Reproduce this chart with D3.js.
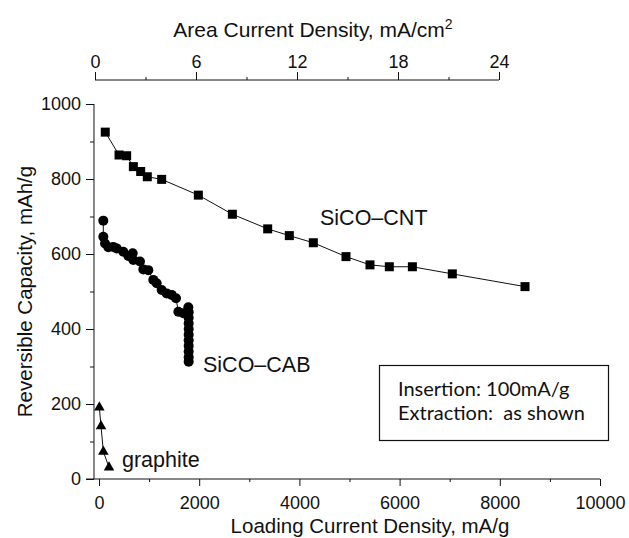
<!DOCTYPE html>
<html>
  <head>
    <meta charset="utf-8">
    <script src="https://d3js.org/d3.v7.min.js"></script>
    <title>Reversible Capacity</title>
    <style>
      body { margin: 0; background: #fff; }
      svg text { font-family: "Liberation Sans", Arial, sans-serif; fill: #111; }
      .tick line, .domain { stroke: #111; }
      .box text { font-family: Lato, "Open Sans", sans-serif; }
    </style>
  </head>
  <body>
    <div id="chart"></div>
    <script>
      // data
      const cntX = [125, 400, 552, 686, 832, 964, 1251, 1983, 2662, 3367, 3799, 4278, 4930, 5409, 5795, 6255, 7052, 8503];
      const cntY = [925, 864, 862, 833, 820, 806, 799, 757, 706, 667, 649, 630, 593, 571, 566, 566, 547, 513];

      const cabX = [86, 86, 120, 186, 285, 353, 485, 585, 672, 685, 818, 885, 984, 1084, 1151, 1251, 1351, 1451, 1537,
                    1584, 1683, 1783, 1790, 1790, 1790, 1790, 1790, 1790, 1790, 1790, 1790, 1790];
      const cabY = [689, 646, 628, 618, 619, 615, 606, 595, 602, 584, 580, 559, 557, 531, 522, 504, 495, 491, 482,
                    446, 442, 458, 445, 430, 415, 400, 385, 370, 355, 340, 325, 313];

      const grX = [7, 40, 87, 200];
      const grY = [191, 141, 73, 31];

      const xMajor = [0, 2000, 4000, 6000, 8000, 10000];
      const xMinor = [1000, 3000, 5000, 7000, 9000];
      const yMajor = [0, 200, 400, 600, 800, 1000];
      const yMinor = [100, 300, 500, 700, 900];
      const topMajor = [0, 6, 12, 18, 24];
      const topMinor = [3, 9, 15, 21];

      const W = 629, H = 538;

      const svg = d3.select("#chart").append("svg")
        .attr("width", W)
        .attr("height", H);

      const x = d3.scaleLinear().domain([0, 10000]).range([99, 600]);
      const y = d3.scaleLinear().domain([0, 1000]).range([479, 104]);
      const xTop = d3.scaleLinear().domain([0, 24]).range([95, 499]);

      // bottom axis
      const gx = svg.append("g").attr("transform", `translate(0,${y(0)})`);
      gx.append("line").attr("x1", x(-260)).attr("x2", x(10000)).attr("stroke", "#111");
      gx.append("g").call(d3.axisBottom(x).tickValues(xMajor).tickSize(7).tickFormat(d3.format("d")).tickSizeOuter(0))
        .call(g => g.select(".domain").remove())
        .call(g => g.selectAll("text").attr("font-size", 18).attr("dy", "1em").attr("y", 12));
      gx.append("g").call(d3.axisBottom(x).tickValues(xMinor).tickSize(3).tickFormat(""))
        .call(g => g.select(".domain").remove());

      // left axis
      const yAxisX = x(-100);
      const gy = svg.append("g").attr("transform", `translate(${yAxisX},0)`);
      gy.append("line").attr("y1", y(0)).attr("y2", y(1000)).attr("stroke", "#111");
      gy.append("g").call(d3.axisLeft(y).tickValues(yMajor).tickSize(8).tickFormat(d3.format("d")))
        .call(g => g.select(".domain").remove())
        .call(g => g.selectAll("text").attr("font-size", 18).attr("x", -13));
      gy.append("g").call(d3.axisLeft(y).tickValues(yMinor).tickSize(4).tickFormat(""))
        .call(g => g.select(".domain").remove());

      // top axis
      const gt = svg.append("g").attr("transform", "translate(0,80)");
      gt.append("line").attr("x1", xTop(0)).attr("x2", xTop(24)).attr("stroke", "#111");
      gt.append("g").call(d3.axisTop(xTop).tickValues(topMajor).tickSize(8))
        .call(g => g.select(".domain").remove())
        .call(g => g.selectAll("text").attr("font-size", 18).attr("y", -12));
      gt.append("g").call(d3.axisTop(xTop).tickValues(topMinor).tickSize(3).tickFormat(""))
        .call(g => g.select(".domain").remove());

      // axis titles
      svg.append("text")
        .attr("x", 313).attr("y", 37)
        .attr("text-anchor", "middle")
        .attr("font-size", 21)
        .text("Area Current Density, mA/cm")
        .append("tspan").attr("dy", -8).attr("font-size", 14).text("2");

      svg.append("text")
        .attr("x", 370).attr("y", 533)
        .attr("text-anchor", "middle")
        .attr("font-size", 20.5)
        .text("Loading Current Density, mA/g");

      svg.append("text")
        .attr("transform", `translate(32,${y(500)}) rotate(-90)`)
        .attr("text-anchor", "middle")
        .attr("font-size", 20.5)
        .text("Reversible Capacity, mAh/g");

      const line = d3.line().x(d => x(d[0])).y(d => y(d[1]));

      function series(xs, ys) {
        return xs.map((v, i) => [v, ys[i]]);
      }

      const cnt = series(cntX, cntY);
      const cab = series(cabX, cabY);
      const gr = series(grX, grY);

      [cnt, cab, gr].forEach(s => {
        svg.append("path").datum(s)
          .attr("d", line)
          .attr("fill", "none")
          .attr("stroke", "#111")
          .attr("stroke-width", 1);
      });

      // squares
      svg.selectAll(".sq").data(cnt).enter().append("rect")
        .attr("class", "sq")
        .attr("x", d => x(d[0]) - 4.5)
        .attr("y", d => y(d[1]) - 4.5)
        .attr("width", 9).attr("height", 9)
        .attr("fill", "#000");

      // circles
      svg.selectAll(".ci").data(cab).enter().append("circle")
        .attr("class", "ci")
        .attr("cx", d => x(d[0]))
        .attr("cy", d => y(d[1]))
        .attr("r", 5)
        .attr("fill", "#000");

      // triangles
      svg.selectAll(".tr").data(gr).enter().append("path")
        .attr("class", "tr")
        .attr("transform", d => `translate(${x(d[0])},${y(d[1])})`)
        .attr("d", d3.symbol(d3.symbolTriangle, 48))
        .attr("fill", "#000");

      // series labels
      svg.append("text").attr("x", 320).attr("y", 225).attr("font-size", 21.5).text("SiCO\u2013CNT");
      svg.append("text").attr("x", 203).attr("y", 372).attr("font-size", 21.5).text("SiCO\u2013CAB");
      svg.append("text").attr("x", 122).attr("y", 467).attr("font-size", 21.5).text("graphite");

      // note box
      const box = svg.append("g").attr("class", "box");
      box.append("rect")
        .attr("x", 379.5).attr("y", 365.5)
        .attr("width", 229).attr("height", 75)
        .attr("fill", "#fff").attr("stroke", "#111").attr("stroke-width", 1.2);
      box.append("text").attr("x", 398).attr("y", 396).attr("font-size", 20).text("Insertion: 100mA/g");
      box.append("text").attr("x", 398).attr("y", 420).attr("font-size", 20)
        .attr("xml:space", "preserve").style("white-space", "pre").text("Extraction:  as shown");
    </script>
  </body>
</html>
